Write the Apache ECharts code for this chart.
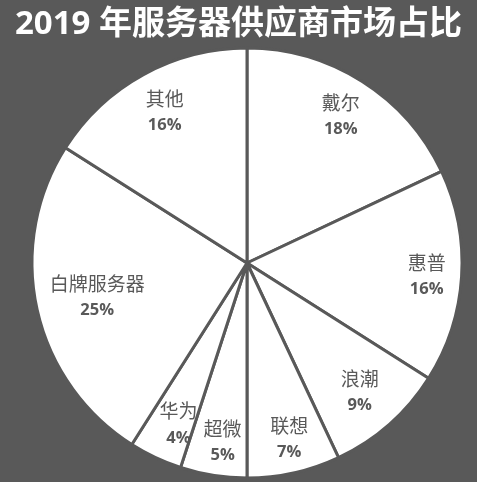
<!DOCTYPE html>
<html>
<head>
<meta charset="utf-8">
<script src="https://cdn.jsdelivr.net/npm/echarts@6/dist/echarts.min.js"></script>
<style>
html,body{margin:0;padding:0;background:#595959;}
#c{width:477px;height:482px;}
</style>
</head>
<body>
<div id="c"></div>
<script>
const titleText = '2019 年服务器供应商市场占比';
const categories = ['戴尔', '惠普', '浪潮', '联想', '超微', '华为', '白牌服务器', '其他'];
const shares = [18, 16, 9, 7, 5, 4, 25, 16];

const data = categories.map((n, i) => ({ name: n, value: shares[i] }));
const fontFam = '"Open Sans", "Noto Sans CJK SC", sans-serif';
// small label nudges (style only), indexed like categories
const nudges = [[0, 2], [5, 3], [-3, -1], [4, 6], [3, 7], [6, 4], [21, -3], [2, 3]];
const chart = echarts.init(document.getElementById('c'), null, { renderer: 'canvas' });
chart.setOption({
  backgroundColor: '#595959',
  animation: false,
  title: {
    text: titleText,
    left: 'center',
    top: 3,
    textStyle: { color: '#ffffff', fontSize: 33, fontWeight: 'bold', fontFamily: fontFam }
  },
  series: [
    {
      type: 'pie',
      center: [247, 263],
      radius: [0, 215],
      startAngle: 90,
      clockwise: true,
      silent: true,
      label: { show: false },
      labelLine: { show: false },
      itemStyle: { color: '#ffffff', borderColor: '#595959', borderWidth: 3 },
      data: data
    },
    {
      type: 'pie',
      center: [247, 263],
      radius: [129, 215],
      startAngle: 90,
      clockwise: true,
      silent: true,
      itemStyle: { color: 'rgba(0,0,0,0)', borderWidth: 0 },
      labelLine: { show: false },
      label: {
        show: true,
        position: 'inside',
        formatter: '{n|{b}}\n{p|{c}%}',
        rich: {
          n: { color: '#595959', fontSize: 19, fontFamily: fontFam, lineHeight: 25 },
          p: { color: '#595959', fontSize: 16.5, fontWeight: 'bold', fontFamily: fontFam, lineHeight: 25 }
        }
      },
      labelLayout: function (p) {
        const d = nudges[p.dataIndex] || [0, 0];
        return { dx: d[0], dy: d[1] };
      },
      data: data
    }
  ]
});
</script>
</body>
</html>
